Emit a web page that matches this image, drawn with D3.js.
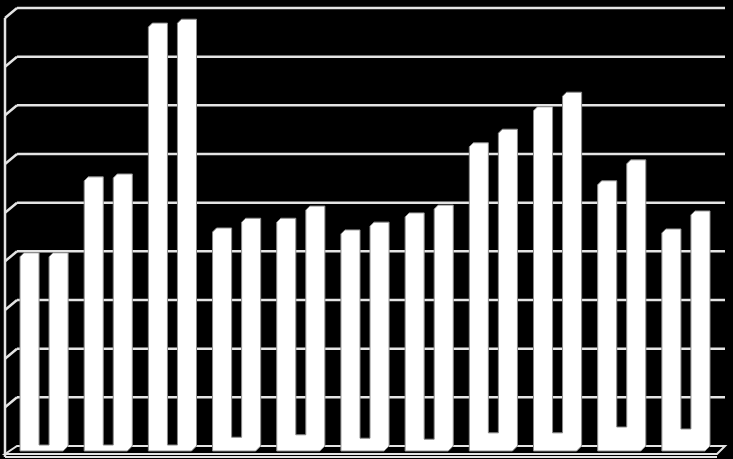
<!DOCTYPE html>
<html>
<head>
<meta charset="utf-8">
<script src="https://cdn.jsdelivr.net/npm/d3@7/dist/d3.min.js"></script>
<style>
  html, body { margin: 0; padding: 0; background: #000; }
  svg { display: block; }
</style>
</head>
<body>
<svg id="chart" width="733" height="459"></svg>
<script>
// ---- data ----
const categories = ["C1","C2","C3","C4","C5","C6","C7","C8","C9","C10","C11"];
const seriesA    = [39.7, 55.3, 86.9, 44.8, 46.8, 44.4, 47.9, 62.3, 69.7, 54.5, 44.6];
const seriesB    = [39.7, 55.9, 87.7, 46.8, 49.3, 46.0, 49.5, 65.1, 72.7, 58.8, 48.3];
const seriesBase = [0.2, 0.2, 0.2, 1.8, 2.3, 1.6, 1.4, 2.7, 2.7, 3.9, 3.5];
const tickValues = [0, 10, 20, 30, 40, 50, 60, 70, 80, 90];

// ---- layout ----
const W = 733, H = 459;
const wallLeft = 17, wallRight = 725;
const depthX = 12, depthY = 10;
const floorFront = 454;
const barBottom = 451;
const d = 4;

const svg = d3.select("#chart");
svg.append("rect").attr("width", W).attr("height", H).attr("fill", "#000");

const y = d3.scaleLinear().domain([0, 90]).range([446, 8]);
const x0 = d3.scaleBand().domain(categories).range([20, 710]).paddingInner(0.25).paddingOuter(0);
const x1 = d3.scaleBand().domain(["a", "b"]).range([0, x0.bandwidth()]).paddingInner(0.344);

const lineColor = "#e4e4e4";

// left side wall outline
svg.append("line")
  .attr("x1", wallLeft - depthX).attr("x2", wallLeft - depthX)
  .attr("y1", y(90) + depthY).attr("y2", floorFront + 3)
  .attr("stroke", lineColor).attr("stroke-width", 2.5);

// gridlines on back wall + side wall diagonals
const grid = svg.append("g");
tickValues.forEach(t => {
  if (t > 0) {
    grid.append("line")
      .attr("x1", wallLeft).attr("x2", wallRight)
      .attr("y1", y(t)).attr("y2", y(t))
      .attr("stroke", lineColor).attr("stroke-width", 2.5);
    grid.append("line")
      .attr("x1", wallLeft - depthX).attr("y1", y(t) + depthY)
      .attr("x2", wallLeft).attr("y2", y(t))
      .attr("stroke", lineColor).attr("stroke-width", 2.5);
  }
});

// floor slab
const fy = y(0);
svg.append("path")
  .attr("d", `M${wallLeft - depthX},${floorFront} L${wallLeft},${fy} L${wallRight},${fy} L${wallRight - 8},${floorFront} Z`)
  .attr("fill", "#000").attr("stroke", lineColor).attr("stroke-width", 2);
svg.append("line")
  .attr("x1", wallLeft - depthX).attr("x2", wallRight - 8)
  .attr("y1", floorFront + 3).attr("y2", floorFront + 3)
  .attr("stroke", lineColor).attr("stroke-width", 2);

// bars: each category drawn as one white 3D shape (left bar, base, right bar)
const groups = categories.map((c, i) => ({ c, a: seriesA[i], b: seriesB[i], m: seriesBase[i] }));
svg.append("g").selectAll("path").data(groups).join("path")
  .attr("d", g => {
    const ax0 = x0(g.c) + x1("a"), ax1 = ax0 + x1.bandwidth();
    const bx0 = x0(g.c) + x1("b"), bx1 = bx0 + x1.bandwidth();
    const ya = y(g.a), yb = y(g.b), ym = y(g.m);
    return `M${ax0},${ya + d} L${ax0 + d},${ya} L${ax1},${ya} L${ax1},${ym}` +
           ` L${bx0},${ym} L${bx0},${yb + d} L${bx0 + d},${yb} L${bx1},${yb}` +
           ` L${bx1},${barBottom - d - 1} L${bx1 - d - 1},${barBottom} L${ax0},${barBottom} Z`;
  })
  .attr("fill", "#fff")
  .attr("stroke", "#8c8c8c")
  .attr("stroke-width", 1);
</script>
</body>
</html>
